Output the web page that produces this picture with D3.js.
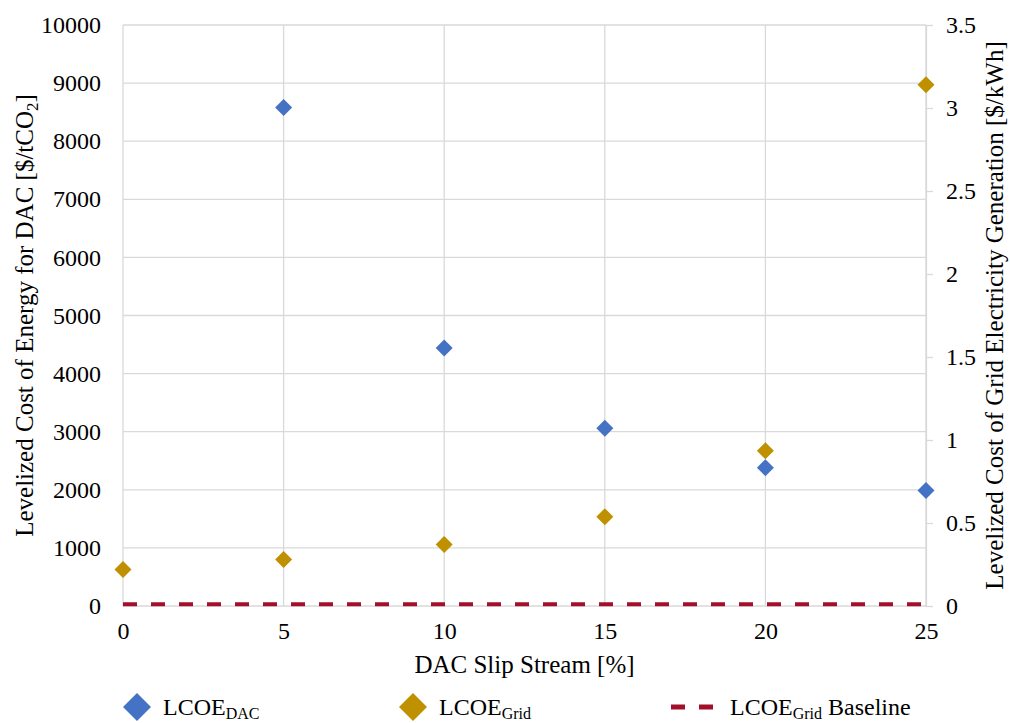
<!DOCTYPE html>
<html>
<head>
<meta charset="utf-8">
<script src="https://cdn.jsdelivr.net/npm/d3@7"></script>
<style>
  body { margin: 0; background: #fff; }
  svg, svg text { font-family: "Liberation Serif", "Times New Roman", Times, "DejaVu Serif", serif !important; fill: #000; }
</style>
</head>
<body>
<div id="chart"></div>
<script>
// Data
const slipStream = [0, 5, 10, 15, 20, 25];
const dacX = [5, 10, 15, 20, 25];
const lcoeDac = [8580, 4440, 3060, 2380, 1990];
const lcoeGrid = [0.22, 0.28, 0.37, 0.537, 0.935, 3.14];
const baselineX = [0, 25];
const baselineGrid = [0.01, 0.01];
const xTicks = [0, 5, 10, 15, 20, 25];
const leftTicks = [0, 1000, 2000, 3000, 4000, 5000, 6000, 7000, 8000, 9000, 10000];
const rightTicks = [0, 0.5, 1, 1.5, 2, 2.5, 3, 3.5];

const W = 1010, H = 723;
const margin = { top: 25, right: 84, bottom: 117, left: 123 };
const width = W - margin.left - margin.right;
const height = H - margin.top - margin.bottom;

const svg = d3.select("#chart").append("svg")
    .attr("width", W)
    .attr("height", H);

const g = svg.append("g")
    .attr("transform", `translate(${margin.left},${margin.top})`);

// Scales
const x = d3.scaleLinear().domain([0, 25]).range([0, width]);
const yL = d3.scaleLinear().domain([0, 10000]).range([height, 0]);
const yR = d3.scaleLinear().domain([0, 3.5]).range([height, 0]);

const gridColor = "#d9d9d9";
const tickFont = "24px";
const titleFont = "25px";

// Gridlines
g.append("g").selectAll("line").data(leftTicks).join("line")
    .attr("x1", 0).attr("x2", width)
    .attr("y1", d => yL(d)).attr("y2", d => yL(d))
    .attr("stroke", gridColor).attr("stroke-width", 1.3);
g.append("g").selectAll("line").data(xTicks).join("line")
    .attr("x1", d => x(d)).attr("x2", d => x(d))
    .attr("y1", 0).attr("y2", height)
    .attr("stroke", gridColor).attr("stroke-width", 1.3);

// Left axis (labels only)
const leftAxis = g.append("g")
    .call(d3.axisLeft(yL).tickValues(leftTicks).tickSize(0).tickPadding(22).tickFormat(d3.format("d")));
leftAxis.select(".domain").remove();
leftAxis.selectAll("text").style("font-size", tickFont);

// Right axis with outward ticks
const rightAxis = g.append("g")
    .attr("transform", `translate(${width},0)`)
    .call(d3.axisRight(yR).tickValues(rightTicks).tickSizeInner(7).tickSizeOuter(0).tickPadding(13).tickFormat(d => d));
rightAxis.select(".domain").attr("stroke", gridColor).attr("stroke-width", 1.3);
rightAxis.selectAll(".tick line").attr("stroke", gridColor).attr("stroke-width", 1.3);
rightAxis.selectAll("text").style("font-size", tickFont);

// Bottom axis
const bottomAxis = g.append("g")
    .attr("transform", `translate(0,${height})`)
    .call(d3.axisBottom(x).tickValues(xTicks).tickSize(0).tickPadding(16));
bottomAxis.select(".domain").remove();
bottomAxis.selectAll("text").style("font-size", tickFont);

[leftAxis, rightAxis, bottomAxis].forEach(a => a.attr("font-family", null).attr("font-size", null));

// Baseline (dashed, right axis)
const line = d3.line().x((d, i) => x(baselineX[i])).y(d => yR(d));
g.append("path")
    .datum(baselineGrid)
    .attr("d", line)
    .attr("fill", "none")
    .attr("stroke", "#a2102b")
    .attr("stroke-width", 4)
    .attr("stroke-dasharray", "14,14");

// Diamond marker
const diamond = s => `M0,${-s}L${s},0L0,${s}L${-s},0Z`;

g.append("g").selectAll("path").data(lcoeGrid).join("path")
    .attr("d", diamond(8.5))
    .attr("transform", (d, i) => `translate(${x(slipStream[i])},${yR(d)})`)
    .attr("fill", "#bf9000");

g.append("g").selectAll("path").data(lcoeDac).join("path")
    .attr("d", diamond(8.5))
    .attr("transform", (d, i) => `translate(${x(dacX[i])},${yL(d)})`)
    .attr("fill", "#4472c4");

// Axis titles
svg.append("text")
    .attr("x", margin.left + width / 2)
    .attr("y", 673)
    .attr("text-anchor", "middle")
    .style("font-size", titleFont)
    .text("DAC Slip Stream [%]");

const lt = svg.append("text")
    .attr("transform", `translate(33,${margin.top + height / 2}) rotate(-90)`)
    .attr("text-anchor", "middle")
    .style("font-size", titleFont);
lt.append("tspan").text("Levelized Cost of Energy for DAC [$/tCO");
lt.append("tspan").attr("dy", 5).style("font-size", "17px").text("2");
lt.append("tspan").attr("dy", -5).text("]");

svg.append("text")
    .attr("transform", `translate(1003,${margin.top + height / 2}) rotate(-90)`)
    .attr("text-anchor", "middle")
    .style("font-size", titleFont)
    .text("Levelized Cost of Grid Electricity Generation [$/kWh]");

// Legend
const legend = svg.append("g").attr("transform", "translate(0,707)");
const legendItems = [
    { type: "marker", color: "#4472c4", x: 137, sub: "DAC", suffix: "" },
    { type: "marker", color: "#bf9000", x: 413, sub: "Grid", suffix: "" },
    { type: "line", color: "#a2102b", x: 693, sub: "Grid", suffix: " Baseline" }
];
legendItems.forEach(d => {
    if (d.type === "marker") {
        legend.append("path")
            .attr("d", diamond(14))
            .attr("transform", `translate(${d.x},0)`)
            .attr("fill", d.color);
    } else {
        legend.append("line")
            .attr("x1", d.x - 22).attr("x2", d.x + 22)
            .attr("y1", 0).attr("y2", 0)
            .attr("stroke", d.color)
            .attr("stroke-width", 5)
            .attr("stroke-dasharray", "14,14");
    }
    const t = legend.append("text")
        .attr("x", d.type === "marker" ? d.x + 26 : d.x + 37)
        .attr("y", 8)
        .style("font-size", "24px");
    t.append("tspan").text("LCOE");
    t.append("tspan").attr("dy", 4).style("font-size", "16px").text(d.sub);
    if (d.suffix) t.append("tspan").attr("dy", -4).text(d.suffix);
});
</script>
</body>
</html>
